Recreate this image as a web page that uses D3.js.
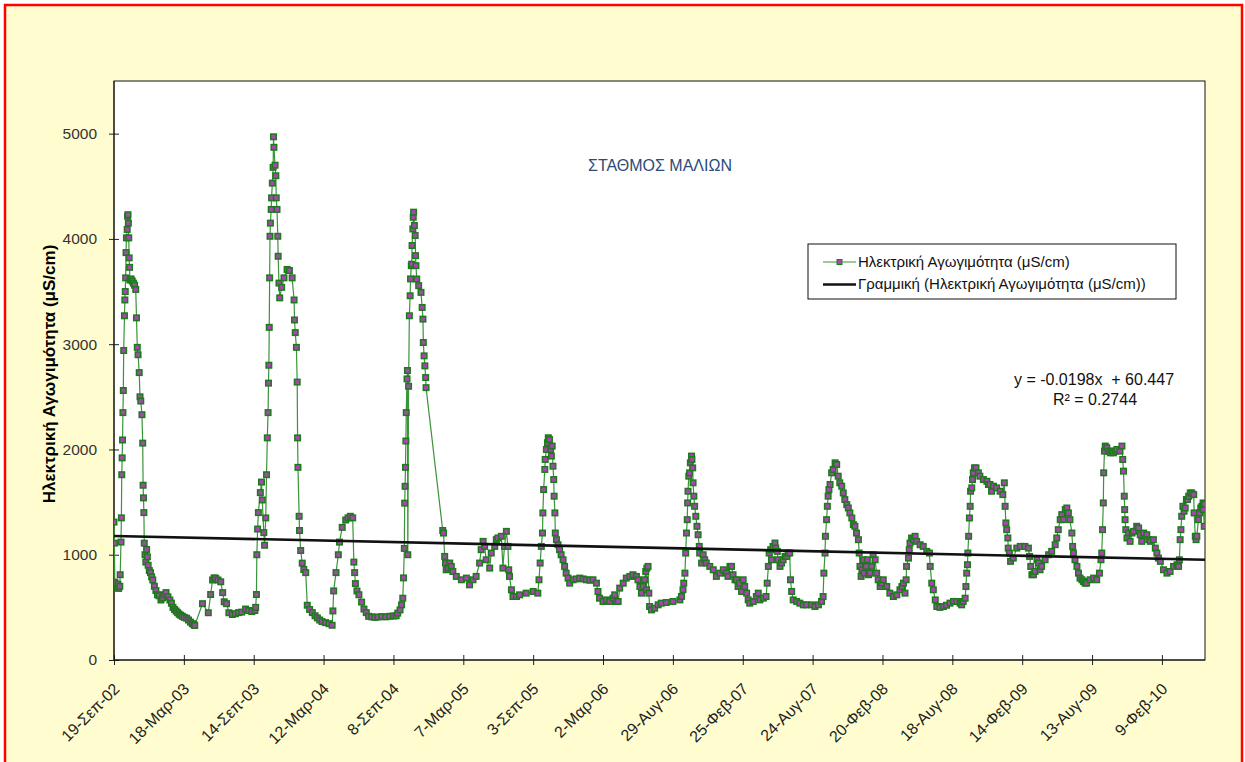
<!DOCTYPE html>
<html><head><meta charset="utf-8">
<script src="https://cdn.jsdelivr.net/npm/d3@7"></script>
<style>html,body{margin:0;padding:0;background:#fff}svg{display:block}</style>
</head><body><svg id="chart" width="1245" height="762"></svg>
<script>
// ---------------- data ----------------
const chartTitle = "ΣΤΑΘΜΟΣ ΜΑΛΙΩΝ";
const yAxisTitle = "Ηλεκτρική Αγωγιμότητα (μS/cm)";
const seriesName = "Ηλεκτρική Αγωγιμότητα (μS/cm)";
const trendName = "Γραμμική (Ηλεκτρική Αγωγιμότητα (μS/cm))";
const trendEquation = "y = -0.0198x  + 60.447";
const trendR2 = "R² = 0.2744";

const startDate = "2002-09-19";          // first measurement
const xDomain = ["2002-09-19", "2010-05-31"];
const yMax = 5500;
const yTicks = [0, 1000, 2000, 3000, 4000, 5000];
const tickDates = ["2002-09-19","2003-03-18","2003-09-14","2004-03-12","2004-09-08","2005-03-07","2005-09-03","2006-03-02",
  "2006-08-29","2007-02-25","2007-08-24","2008-02-20","2008-08-18","2009-02-14","2009-08-13","2010-02-09"];
const tickLabels = ["19-Σεπ-02","18-Μαρ-03","14-Σεπ-03","12-Μαρ-04","8-Σεπ-04","7-Μαρ-05","3-Σεπ-05","2-Μαρ-06",
  "29-Αυγ-06","25-Φεβ-07","24-Αυγ-07","20-Φεβ-08","18-Αυγ-08","14-Φεβ-09","13-Αυγ-09","9-Φεβ-10"];
// linear trend values at the two ends of the axis
const trendValues = [1178, 952];

// days since the first measurement
const sampleDays = [
0,1,2,3,5,8,10,12,15,16,
18,19,20,21,22,23,24,25,27,28,
29,30,31,32,34,35,36,37,38,39,
40,41,44,47,50,53,56,58,60,62,
65,67,69,72,74,75,76,77,78,80,
82,84,86,88,91,94,97,100,104,108,
112,116,121,125,129,134,139,144,148,152,
156,160,164,168,172,176,181,187,192,197,
202,206,208,228,243,249,254,258,262,268,
275,280,284,290,296,305,313,321,329,339,
347,355,363,365,367,368,370,372,377,380,
382,386,388,391,393,395,397,398,399,400,
401,402,403,405,406,408,410,411,412,415,
417,418,420,422,423,425,427,432,438,446,
452,459,464,465,467,470,472,473,474,477,
478,481,485,489,494,498,504,511,518,524,
530,536,545,554,562,564,566,572,578,581,
588,597,603,609,615,618,620,622,626,631,
638,644,650,656,664,672,680,690,700,710,
720,727,731,737,741,744,746,748,749,750,
751,752,753,755,756,757,759,761,763,764,
766,767,768,770,771,772,774,776,777,778,
780,785,791,794,796,797,799,801,803,804,
847,849,852,854,856,861,865,869,873,882,
895,908,916,925,933,942,946,951,955,959,
968,972,981,985,989,998,1002,1006,1011,1015,
1017,1019,1024,1028,1037,1045,1062,1080,1092,1095,
1098,1101,1104,1105,1107,1110,1111,1114,1117,1119,
1122,1125,1127,1129,1131,1133,1134,1136,1137,1140,
1144,1148,1152,1157,1161,1165,1170,1174,1183,1191,
1200,1209,1217,1226,1234,1243,1247,1251,1260,1269,
1277,1286,1290,1294,1299,1303,1312,1320,1329,1337,
1346,1350,1355,1359,1363,1367,1370,1372,1373,1376,
1378,1380,1385,1393,1402,1410,1423,1440,1458,1462,
1466,1468,1471,1473,1475,1477,1478,1479,1481,1483,
1485,1488,1489,1491,1492,1494,1496,1499,1502,1505,
1508,1509,1514,1518,1522,1526,1535,1544,1552,1561,
1570,1578,1582,1587,1591,1595,1600,1604,1608,1612,
1617,1621,1625,1630,1634,1638,1647,1655,1660,1664,
1673,1680,1683,1686,1688,1692,1694,1698,1703,1705,
1709,1711,1716,1720,1724,1729,1733,1737,1741,1743,
1746,1750,1759,1767,1776,1784,1797,1806,1815,1823,
1827,1829,1832,1833,1836,1838,1840,1842,1845,1849,
1853,1858,1862,1866,1870,1875,1879,1883,1888,1892,
1896,1901,1905,1909,1913,1918,1920,1922,1925,1927,
1931,1933,1938,1941,1944,1948,1952,1956,1961,1965,
1969,1974,1978,1982,1991,1999,2008,2017,2025,2030,
2034,2038,2041,2042,2047,2049,2051,2055,2060,2064,
2068,2077,2085,2094,2101,2103,2107,2111,2116,2120,
2128,2137,2145,2154,2163,2171,2180,2184,2188,2193,
2195,2197,2199,2200,2202,2204,2206,2207,2210,2212,
2214,2217,2221,2227,2231,2240,2249,2253,2257,2261,
2266,2274,2283,2290,2294,2296,2298,2300,2303,2304,
2307,2310,2317,2326,2335,2347,2356,2359,2362,2365,
2369,2373,2378,2382,2386,2390,2399,2408,2416,2425,
2429,2433,2438,2442,2446,2451,2455,2459,2463,2468,
2470,2472,2476,2481,2485,2489,2494,2498,2502,2506,
2515,2524,2532,2539,2543,2545,2547,2549,2550,2552,
2554,2558,2562,2567,2571,2575,2580,2584,2592,2597,
2599,2601,2603,2604,2605,2607,2610,2614,2618,2623,
2627,2635,2640,2644,2648,2653,2661,2666,2670,2678,
2683,2687,2691,2696,2704,2713,2721,2730,2739,2743,
2745,2747,2749,2751,2754,2757,2760,2763,2766,2769,
2773,2777,2782,2783,2786,2788,2790,2794,2797,2800,
2803,2806,2807,2809,2810
];

// electrical conductivity, μS/cm
const conductivity = [
1310,1110,740,700,720,690,720,680,700,810,
1120,1350,1760,1920,2090,2350,2560,2940,3270,3420,
3500,3630,3870,4010,4090,4215,4230,4150,4010,3820,
3730,3610,3620,3600,3580,3560,3520,3250,2970,2900,
2730,2500,2460,2330,2060,1660,1540,1400,1110,1000,
930,1050,980,900,850,830,790,760,700,660,
620,610,570,590,620,640,600,570,540,500,
480,465,450,435,425,415,405,397,380,360,
345,335,328,535,449,622,760,780,777,760,
743,640,553,535,449,432,440,450,455,484,
470,460,470,500,622,1000,1244,1400,1590,1690,
1520,1210,1090,1350,1760,2110,2350,2630,2800,3160,
3630,4025,4150,4280,4390,4530,4680,4970,4870,4700,
4600,4390,4280,4025,3835,3580,3440,3540,3630,3710,
3700,3630,3420,3230,3110,2970,2640,2110,1830,1365,
1230,1040,920,860,830,520,480,450,420,400,
380,365,355,345,330,466,656,830,1000,1120,
1260,1330,1350,1365,1350,930,830,726,656,620,
550,484,450,415,410,405,408,412,410,415,
418,420,445,476,524,587,780,1060,1490,1650,
1830,2080,2350,2670,2750,1000,2600,3270,3460,3620,
3746,3760,3937,4095,4206,4254,4127,4032,3841,3746,
3619,3556,3492,3349,3238,3016,2889,2794,2683,2587,
1230,1206,984,921,857,873,921,889,841,794,
762,778,714,762,794,921,1048,1127,1079,952,
873,1016,1079,1143,1159,1175,873,1079,1222,1079,
857,794,667,603,603,619,635,651,635,762,
921,1079,1206,1397,1619,1810,1905,2000,2064,2111,
2095,2000,1937,2032,1841,1714,1556,1397,1206,1143,
1095,1048,1000,952,889,825,778,730,762,770,
778,770,762,758,762,730,651,587,556,571,
556,587,619,556,556,683,730,778,794,810,
794,762,698,635,698,762,841,667,873,889,
635,508,476,492,524,540,546,556,571,603,
667,730,825,1016,1206,1333,1492,1603,1746,1778,
1873,1937,1905,1825,1683,1556,1460,1365,1270,1190,
1079,1016,921,1000,952,921,889,857,794,825,
857,825,794,889,889,810,762,762,698,730,
651,762,698,635,571,540,556,603,635,571,
587,603,730,889,1016,1048,952,1079,1111,1063,
1032,952,889,921,952,984,984,1016,1016,762,
651,571,556,540,524,524,524,508,524,556,
603,825,1016,1175,1333,1460,1556,1619,1667,1778,
1810,1873,1857,1746,1683,1651,1587,1524,1476,1444,
1397,1349,1286,1270,1206,1143,1016,889,794,857,
952,825,889,952,810,825,889,1000,952,825,
762,698,730,762,698,635,603,619,667,698,
730,635,762,889,968,1048,1111,1159,1143,1175,
1127,1095,1079,1032,1016,889,730,667,571,508,
500,508,520,540,556,556,540,524,556,587,
698,825,905,1016,1175,1349,1460,1603,1635,1714,
1778,1825,1825,1778,1746,1714,1698,1667,1667,1603,
1651,1635,1603,1571,1683,1460,1302,1238,1159,1063,
1016,937,968,1063,1079,1079,1063,984,889,810,
810,841,952,921,857,889,952,1000,1032,1095,
1159,1238,1333,1381,1333,1429,1444,1397,1333,1206,
1079,1016,952,889,825,778,762,746,730,730,
762,778,762,825,952,1016,1238,1492,1778,1984,
2032,2016,1984,1968,1984,1968,1984,2000,1984,2032,
1905,1794,1556,1429,1333,1238,1159,1206,1127,1206,
1222,1270,1254,1190,1127,1206,1190,1143,1127,1143,
1063,1016,968,937,857,825,841,889,905,889,
952,1143,1238,1365,1460,1413,1444,1524,1524,1556,
1587,1587,1571,1397,1175,1143,1175,1333,1397,1444,
1460,1492,1429,1270,1480
];

// ---------------- drawing ----------------
if (sampleDays.length !== conductivity.length) throw new Error("data length mismatch " + sampleDays.length + " vs " + conductivity.length);

const FONT = "'Liberation Sans', Arial, Helvetica, sans-serif";
const parse = d3.utcParse("%Y-%m-%d");
const t0 = parse(startDate);
const data = sampleDays.map((d, i) => ({ date: d3.utcDay.offset(t0, d), value: conductivity[i] }));

const plot = { left: 114, right: 1205, top: 81, bottom: 660 };
const x = d3.scaleUtc().domain(xDomain.map(parse)).range([plot.left, plot.right]);
const y = d3.scaleLinear().domain([0, yMax]).range([plot.bottom, plot.top]);

const LINE_GREEN = "#3a943a";
const MARK_EDGE = "#1c7a1c";
const MARK_FILL = "#a548ab";

const svg = d3.select("#chart").style("font-family", FONT);

// outer frame
svg.append("rect").attr("x", 5).attr("y", 5).attr("width", 1237).attr("height", 800)
  .attr("fill", "#FFFDD0").attr("stroke", "#FF0000").attr("stroke-width", 2.5);

// plot area
svg.append("rect").attr("x", plot.left).attr("y", plot.top)
  .attr("width", plot.right - plot.left).attr("height", plot.bottom - plot.top)
  .attr("fill", "#FFFFFF").attr("stroke", "#111").attr("stroke-width", 1);

// y axis (cross tick marks)
const yAxis = svg.append("g").attr("transform", `translate(${plot.left + 5},0)`)
  .call(d3.axisLeft(y).tickValues(yTicks).tickSize(10).tickPadding(12).tickFormat(d3.format("d")));
yAxis.select(".domain").remove();
yAxis.selectAll(".tick line").attr("stroke", "#222");
yAxis.selectAll(".tick text").attr("font-size", 15.5).attr("fill", "#333").attr("font-family", FONT);

// x axis (cross tick marks)
const xAxis = svg.append("g").attr("transform", `translate(0,${plot.bottom - 5})`)
  .call(d3.axisBottom(x).tickValues(tickDates.map(parse)).tickSize(10)
    .tickFormat((d, i) => tickLabels[i]));
xAxis.select(".domain").remove();
xAxis.selectAll(".tick line").attr("stroke", "#222");
xAxis.selectAll(".tick text")
  .attr("font-size", 16).attr("fill", "#222").attr("font-family", FONT)
  .attr("x", 0).attr("y", 0).attr("dy", 0)
  .attr("text-anchor", "end")
  .attr("transform", "translate(6,35) rotate(-45)");

// axis lines on top of the plot rect edges
svg.append("line").attr("x1", plot.left).attr("x2", plot.left).attr("y1", plot.top).attr("y2", plot.bottom)
  .attr("stroke", "#111");
svg.append("line").attr("x1", plot.left).attr("x2", plot.right).attr("y1", plot.bottom).attr("y2", plot.bottom)
  .attr("stroke", "#111");

// y axis title
svg.append("text").attr("transform", "translate(55,374) rotate(-90)")
  .attr("text-anchor", "middle").attr("font-weight", "bold").attr("font-size", 17).attr("fill", "#000")
  .text(yAxisTitle);

// chart title
svg.append("text").attr("x", 660).attr("y", 171).attr("text-anchor", "middle")
  .attr("font-size", 16).attr("fill", "#2c4a78").text(chartTitle);

// series
svg.append("clipPath").attr("id", "plotclip").append("rect")
  .attr("x", plot.left).attr("y", plot.top).attr("width", plot.right - plot.left).attr("height", plot.bottom - plot.top);
const g = svg.append("g").attr("clip-path", "url(#plotclip)");

const line = d3.line().x(d => x(d.date)).y(d => y(d.value));
g.append("path").datum(data).attr("d", line)
  .attr("fill", "none").attr("stroke", LINE_GREEN).attr("stroke-width", 1.2);

const MS = 5.5;
g.selectAll("rect.pt").data(data).join("rect").attr("class", "pt")
  .attr("x", d => x(d.date) - MS / 2).attr("y", d => y(d.value) - MS / 2)
  .attr("width", MS).attr("height", MS)
  .attr("fill", MARK_FILL).attr("stroke", MARK_EDGE).attr("stroke-width", 1.5);

// linear trend line
const trendData = xDomain.map((d, i) => ({ date: parse(d), value: trendValues[i] }));
g.append("path").datum(trendData).attr("d", line)
  .attr("fill", "none").attr("stroke", "#111").attr("stroke-width", 2.6);

// legend
const lg = svg.append("g");
lg.append("rect").attr("x", 808).attr("y", 244).attr("width", 368).attr("height", 55)
  .attr("fill", "#fff").attr("stroke", "#111").attr("stroke-width", 1);
lg.append("line").attr("x1", 823).attr("x2", 856).attr("y1", 262).attr("y2", 262)
  .attr("stroke", LINE_GREEN).attr("stroke-width", 1.2);
lg.append("rect").attr("x", 839.5 - 2.5).attr("y", 262 - 2.5).attr("width", 5).attr("height", 5)
  .attr("fill", MARK_FILL).attr("stroke", MARK_EDGE).attr("stroke-width", 1);
lg.append("text").attr("x", 858).attr("y", 267).attr("font-size", 15).attr("fill", "#111").text(seriesName);
lg.append("line").attr("x1", 823).attr("x2", 856).attr("y1", 284.5).attr("y2", 284.5)
  .attr("stroke", "#111").attr("stroke-width", 2.6);
lg.append("text").attr("x", 858).attr("y", 289).attr("font-size", 15).attr("fill", "#111").text(trendName);

// trend equation
svg.append("text").attr("x", 1094).attr("y", 385).attr("text-anchor", "middle")
  .attr("font-size", 16).attr("fill", "#111").style("white-space", "pre").text(trendEquation);
svg.append("text").attr("x", 1095).attr("y", 405).attr("text-anchor", "middle")
  .attr("font-size", 16).attr("fill", "#111").text(trendR2);
</script></body></html>
